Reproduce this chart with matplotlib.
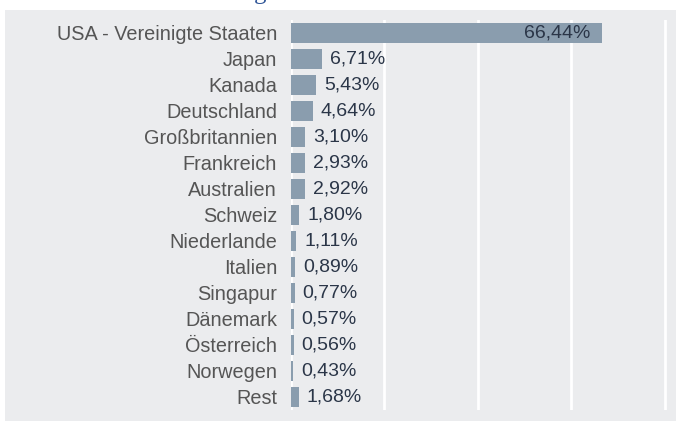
import matplotlib
matplotlib.use("Agg")
import matplotlib.pyplot as plt
from matplotlib.patches import Rectangle

laender = ["USA - Vereinigte Staaten", "Japan", "Kanada", "Deutschland", "Großbritannien",
           "Frankreich", "Australien", "Schweiz", "Niederlande", "Italien", "Singapur",
           "Dänemark", "Österreich", "Norwegen", "Rest"]
anteile = [66.44, 6.71, 5.43, 4.64, 3.10, 2.93, 2.92, 1.80, 1.11, 0.89, 0.77, 0.57, 0.56, 0.43, 1.68]
x_ticks = [0, 20, 40, 60, 80]

bg = "#EBECEE"
bar_col = "#8A9DAE"

fig = plt.figure(figsize=(6.76, 4.23), dpi=100)
fig.patches.append(Rectangle((5 / 676, 2 / 423), 1, 411 / 423, transform=fig.transFigure,
                             facecolor=bg, edgecolor="none", zorder=-10))
# Rest des abgeschnittenen Titels oben
fig.text(260 / 676, 1 + 1.5 / 423, "g", family="Liberation Serif", fontsize=18, color="#2F5597",
         ha="center", va="baseline")

ax = fig.add_axes([291 / 676, 0.031, 1 - 291 / 676 - 0.006, 0.922])
ax.set_facecolor(bg)
for s in ax.spines.values():
    s.set_visible(False)

y = list(range(len(laender)))
ax.barh(y, anteile, height=0.77, color=bar_col, zorder=2)
ax.set_ylim(len(laender) - 0.5, -0.5)
ax.set_xlim(0, 81.5)
ax.set_xticks(x_ticks)
ax.xaxis.grid(True, color="white", linewidth=2, zorder=1)
ax.tick_params(axis="x", length=0, labelbottom=False)
ax.tick_params(axis="y", length=0, pad=10)
ax.set_yticks(y)
ax.set_yticklabels(laender, family="Liberation Sans", fontsize=14.3, color="#555555")

for i, v in enumerate(anteile):
    txt = f"{v:.2f}".replace(".", ",") + "%"
    if v > 30:
        ax.text(v - 2.3, i, txt, ha="right", va="center", fontsize=14,
                family="Liberation Sans", color="#2B3648", zorder=3)
    else:
        ax.text(v + 1.7, i, txt, ha="left", va="center", fontsize=14,
                family="Liberation Sans", color="#2B3648", zorder=3)

fig.savefig("out.png", dpi=100)
